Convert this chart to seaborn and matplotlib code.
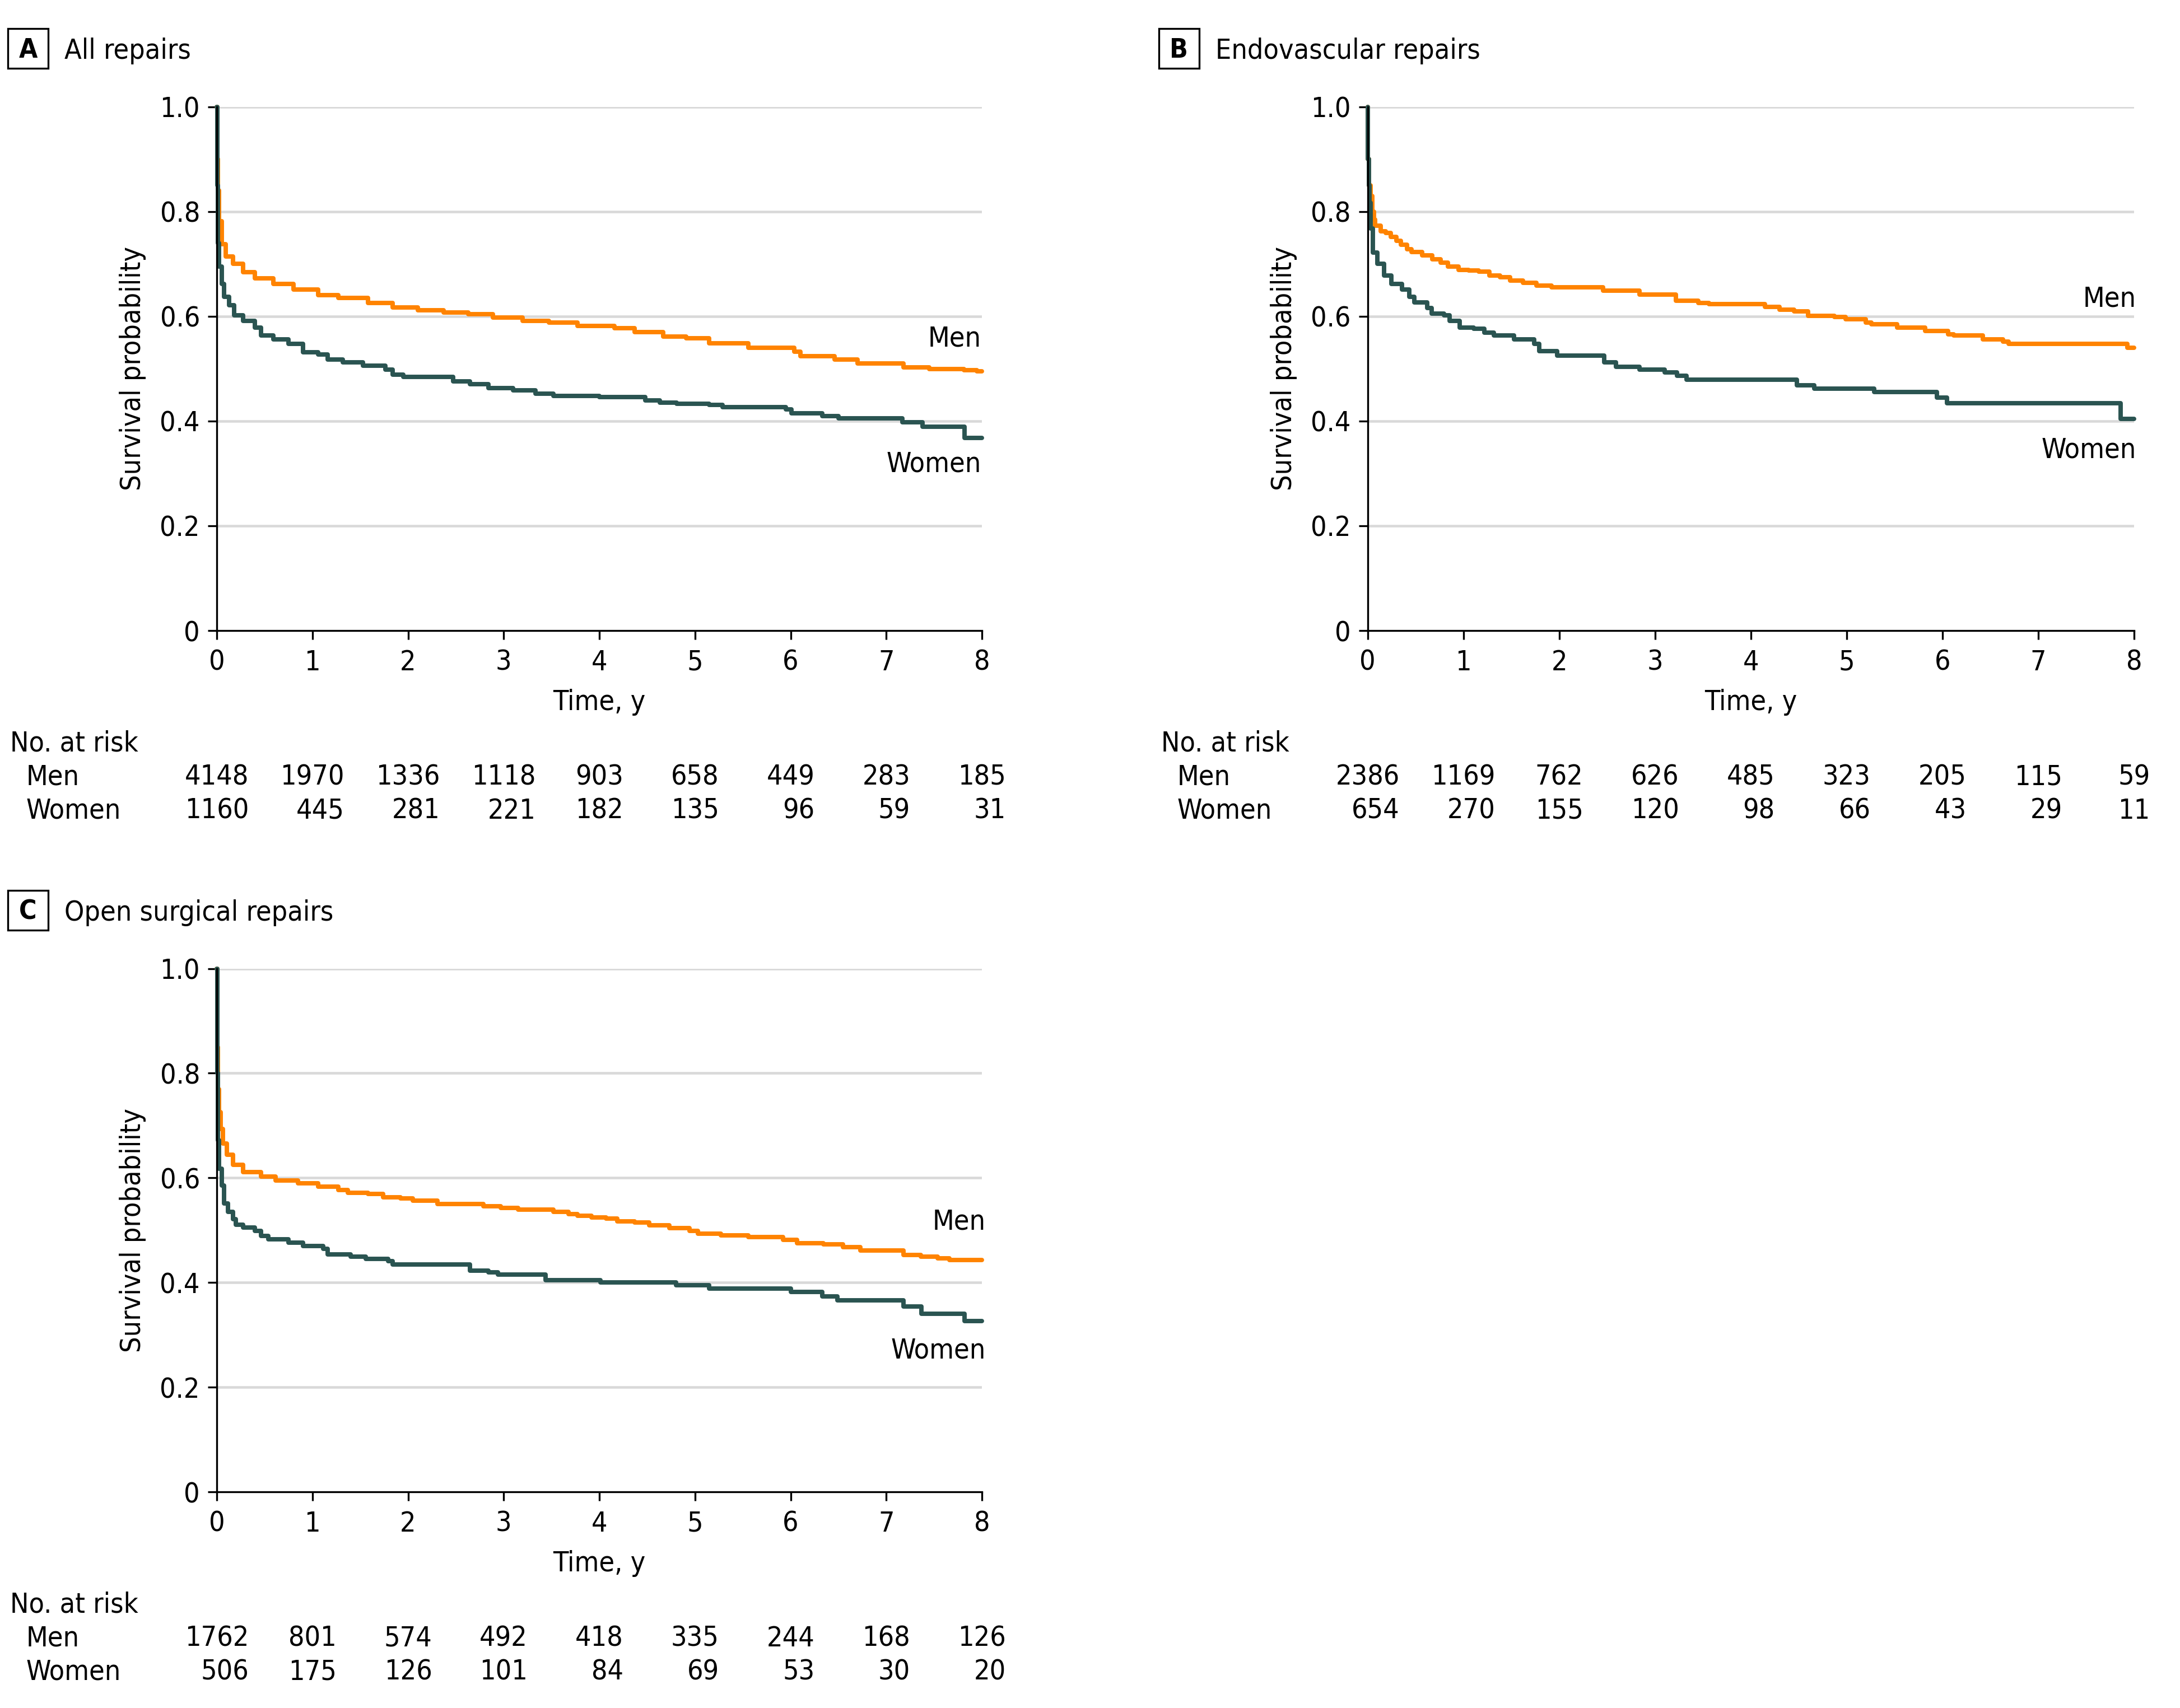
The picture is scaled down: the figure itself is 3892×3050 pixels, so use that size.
import numpy as np
import pandas as pd
import matplotlib
matplotlib.use("Agg")
import matplotlib.pyplot as plt
import seaborn as sns
from matplotlib import font_manager as fm
from matplotlib.patches import Rectangle

# ---------------- data ----------------
panel_letters = ["A", "B", "C"]
panel_titles = ["All repairs", "Endovascular repairs", "Open surgical repairs"]
groups = ["Men", "Women"]

# Panel A - all repairs
a_men_t = [0, 0.005, 0.012, 0.026, 0.053, 0.092, 0.17, 0.275, 0.40, 0.59, 0.80, 1.06, 1.27, 1.58,
           1.84, 2.10, 2.37, 2.63, 2.89, 3.20, 3.47, 3.77, 4.16, 4.37, 4.67, 4.91, 5.15, 5.56,
           6.04, 6.10, 6.46, 6.70, 7.18, 7.45, 7.81, 7.95, 8.0]
a_men_s = [1.0, 0.90, 0.84, 0.782, 0.738, 0.714, 0.700, 0.684, 0.673, 0.662, 0.651, 0.641, 0.635, 0.625,
           0.617, 0.612, 0.607, 0.604, 0.598, 0.591, 0.588, 0.582, 0.577, 0.570, 0.561, 0.5585, 0.549, 0.540,
           0.533, 0.524, 0.518, 0.510, 0.503, 0.499, 0.497, 0.495, 0.495]
a_wom_t = [0, 0.004, 0.010, 0.026, 0.053, 0.078, 0.13, 0.18, 0.275, 0.40, 0.46, 0.59, 0.75, 0.90,
           1.06, 1.16, 1.32, 1.53, 1.76, 1.84, 1.95, 2.47, 2.65, 2.84, 3.10, 3.33, 3.52, 4.0,
           4.48, 4.63, 4.81, 5.15, 5.29, 5.95, 6.01, 6.33, 6.50, 7.17, 7.38, 7.82, 8.0]
a_wom_s = [1.0, 0.85, 0.74, 0.695, 0.662, 0.637, 0.621, 0.602, 0.591, 0.578, 0.564, 0.556, 0.547, 0.531,
           0.527, 0.518, 0.512, 0.506, 0.498, 0.489, 0.484, 0.476, 0.470, 0.463, 0.459, 0.452, 0.4475, 0.4455,
           0.4400, 0.4350, 0.4335, 0.4305, 0.4270, 0.4220, 0.4145, 0.4096, 0.4050, 0.3975, 0.3892, 0.3681, 0.3681]

# Panel B - endovascular repairs
b_men_t = [0, 0.005, 0.015, 0.03, 0.05, 0.065, 0.08, 0.135, 0.19, 0.24, 0.30, 0.35, 0.41, 0.46,
           0.57, 0.675, 0.76, 0.84, 0.95, 1.055, 1.16, 1.27, 1.38, 1.49, 1.62, 1.76,
           1.92, 2.46, 2.84, 3.22, 3.45, 3.56, 4.15, 4.30, 4.45, 4.60, 4.87, 4.99, 5.20, 5.26,
           5.525, 5.82, 6.06, 6.12, 6.42, 6.63, 6.69, 7.93, 8.0]
b_men_s = [1.0, 0.90, 0.85, 0.830, 0.80, 0.785, 0.773, 0.762, 0.759, 0.752, 0.744, 0.737, 0.728, 0.723,
           0.716, 0.709, 0.702, 0.695, 0.689, 0.688, 0.685, 0.678, 0.675, 0.668, 0.664, 0.659,
           0.656, 0.649, 0.642, 0.630, 0.626, 0.623, 0.618, 0.613, 0.610, 0.601, 0.599, 0.595, 0.588, 0.585,
           0.578, 0.572, 0.566, 0.563, 0.556, 0.552, 0.5475, 0.540, 0.540]
b_wom_t = [0, 0.005, 0.012, 0.02, 0.03, 0.055, 0.10, 0.17, 0.25, 0.36, 0.435, 0.49, 0.62, 0.67,
           0.80, 0.855, 0.96, 1.11, 1.22, 1.32, 1.53, 1.74, 1.79, 1.98, 2.47, 2.59, 2.84, 3.10,
           3.23, 3.33, 4.48, 4.66, 5.29, 5.94, 6.05, 7.86, 8.0]
b_wom_s = [1.0, 0.90, 0.85, 0.817, 0.768, 0.722, 0.700, 0.678, 0.662, 0.651, 0.637, 0.627, 0.616, 0.605,
           0.602, 0.591, 0.579, 0.576, 0.569, 0.564, 0.556, 0.548, 0.534, 0.525, 0.512, 0.504, 0.498, 0.493,
           0.487, 0.479, 0.468, 0.462, 0.455, 0.445, 0.434, 0.404, 0.404]

# Panel C - open surgical repairs
c_men_t = [0, 0.004, 0.01, 0.026, 0.04, 0.065, 0.105, 0.17, 0.275, 0.46, 0.615, 0.85, 1.06, 1.27,
           1.37, 1.58, 1.74, 1.92, 2.05, 2.31, 2.785, 2.97, 3.15, 3.52, 3.68, 3.77, 3.92, 4.07,
           4.19, 4.37, 4.52, 4.73, 4.94, 5.03, 5.27, 5.56, 5.92, 6.07, 6.34, 6.55, 6.73, 7.18,
           7.36, 7.54, 7.66, 8.0]
c_men_s = [1.0, 0.85, 0.770, 0.726, 0.694, 0.666, 0.644, 0.625, 0.611, 0.603, 0.595, 0.590, 0.583, 0.577,
           0.572, 0.569, 0.563, 0.561, 0.557, 0.550, 0.546, 0.543, 0.539, 0.5354, 0.531, 0.528, 0.524, 0.522,
           0.517, 0.515, 0.5095, 0.504, 0.499, 0.4936, 0.490, 0.4865, 0.482, 0.475, 0.473, 0.468, 0.461, 0.453,
           0.449, 0.446, 0.443, 0.443]
c_wom_t = [0, 0.003, 0.01, 0.026, 0.053, 0.078, 0.12, 0.17, 0.20, 0.275, 0.40, 0.46, 0.54, 0.75,
           0.90, 1.11, 1.16, 1.40, 1.56, 1.79, 1.84, 2.65, 2.84, 2.94, 3.44, 4.01, 4.80, 5.15,
           6.00, 6.33, 6.49, 7.18, 7.37, 7.82, 8.0]
c_wom_s = [1.0, 0.80, 0.672, 0.617, 0.585, 0.551, 0.535, 0.521, 0.511, 0.505, 0.499, 0.489, 0.483, 0.476,
           0.470, 0.464, 0.454, 0.449, 0.445, 0.441, 0.434, 0.423, 0.419, 0.415, 0.405, 0.400, 0.395, 0.389,
           0.382, 0.374, 0.366, 0.354, 0.340, 0.326, 0.326]

# Number at risk
risk_times = [0, 1, 2, 3, 4, 5, 6, 7, 8]
a_risk_men = [4148, 1970, 1336, 1118, 903, 658, 449, 283, 185]
a_risk_wom = [1160, 445, 281, 221, 182, 135, 96, 59, 31]
b_risk_men = [2386, 1169, 762, 626, 485, 323, 205, 115, 59]
b_risk_wom = [654, 270, 155, 120, 98, 66, 43, 29, 11]
c_risk_men = [1762, 801, 574, 492, 418, 335, 244, 168, 126]
c_risk_wom = [506, 175, 126, 101, 84, 69, 53, 30, 20]

y_ticks = [0, 0.2, 0.4, 0.6, 0.8, 1.0]
y_ticklabels = ["0", "0.2", "0.4", "0.6", "0.8", "1.0"]
x_ticks = [0, 1, 2, 3, 4, 5, 6, 7, 8]

# curve-end label positions (x in years, baseline y in survival units)
label_pos = {
    "A": {"Men": (7.99, 0.5425), "Women": (7.99, 0.303)},
    "B": {"Men": (8.02, 0.6187), "Women": (8.02, 0.3296)},
    "C": {"Men": (8.04, 0.5015), "Women": (8.04, 0.2548)},
}

# ---------------- style ----------------
ORANGE = "#FF8300"
DARK = "#2A5451"
GRID = "#D9D9D9"

sns.set_theme(style="white")

ttf = fm.fontManager.ttflist
fam, stretch = "Liberation Sans", "normal"
if any(f.name == "DejaVu Sans" and f.stretch == "condensed" for f in ttf):
    fam, stretch = "DejaVu Sans", "condensed"
elif any(f.name == "Liberation Sans Narrow" for f in ttf):
    fam, stretch = "Liberation Sans Narrow", "condensed"
plt.rcParams["font.family"] = [fam, "DejaVu Sans"]
plt.rcParams["font.stretch"] = stretch
FS = 12

W, H = 3892, 3050
DPI = 300
fig = plt.figure(figsize=(W / DPI, H / DPI), dpi=DPI, facecolor="white")


def fx(px):
    return px / W


def fy(py):
    return 1 - py / H


panels = [
    ("A", (387, 190.8, 1753, 1126), (a_men_t, a_men_s, a_wom_t, a_wom_s), (a_risk_men, a_risk_wom)),
    ("B", (2441.6, 190.8, 3810, 1126), (b_men_t, b_men_s, b_wom_t, b_wom_s), (b_risk_men, b_risk_wom)),
    ("C", (387, 1729.6, 1753, 2664), (c_men_t, c_men_s, c_wom_t, c_wom_s), (c_risk_men, c_risk_wom)),
]

pending = []
for (letter, (L, T, R, B), (mt, ms, wt, ws), (rm, rw)), title in zip(panels, panel_titles):
    ax = fig.add_axes([fx(L), fy(B), (R - L) / W, (B - T) / H])
    df = pd.concat([
        pd.DataFrame({"t": mt, "S": ms, "sex": "Men"}),
        pd.DataFrame({"t": wt, "S": ws, "sex": "Women"}),
    ], ignore_index=True)
    sns.lineplot(data=df, x="t", y="S", hue="sex", hue_order=groups,
                 palette={"Men": ORANGE, "Women": DARK}, estimator=None, sort=False,
                 drawstyle="steps-post", lw=1.9, legend=False, ax=ax, clip_on=False,
                 zorder=3)
    ax.set_xlim(0, 8)
    ax.set_ylim(0, 1.0)
    ax.set_xlabel("")
    ax.set_ylabel("")
    ax.set_yticks(y_ticks)
    ax.set_yticklabels(y_ticklabels)
    ax.set_xticks(x_ticks)
    ax.set_xticklabels([str(v) for v in x_ticks])
    for yv in y_ticks[1:]:
        ax.axhline(yv, color=GRID, lw=1.1, zorder=1)
    ax.grid(False)
    for s in ["top", "right"]:
        ax.spines[s].set_visible(False)
    for s in ["left", "bottom"]:
        ax.spines[s].set_color("black")
        ax.spines[s].set_linewidth(0.8)
        ax.spines[s].set_zorder(4)
    ax.tick_params(axis="both", which="major", length=3.9, width=0.8, color="black",
                   labelsize=FS, labelcolor="black", direction="out")
    ax.tick_params(axis="y", pad=3.3, left=True)
    ax.tick_params(axis="x", pad=4.0, bottom=True)
    ax.set_facecolor("none")

    # curve labels
    for g in groups:
        x0, y0 = label_pos[letter][g]
        ax.text(x0, y0, g, ha="right", va="baseline", fontsize=FS, color="black", clip_on=False)

    # panel letter box + title
    fig.patches.append(Rectangle((fx(L - 373), fy(T - 69.1)), 72 / W, 71 / H,
                                 transform=fig.transFigure, fill=True, facecolor="white",
                                 edgecolor="black", lw=0.8))
    fig.text(fx(L - 337), fy(T - 87.8), letter, ha="center", va="baseline",
             fontsize=11.5, fontweight="bold", color="black")
    fig.text(fx(L - 272), fy(T - 85.8), title, ha="left", va="baseline", fontsize=FS, color="black")

    # axis labels
    fig.text(fx(L - 150), fy((T + B) / 2), "Survival probability", rotation=90,
             ha="center", va="center", fontsize=FS, color="black")
    fig.text(fx((L + R) / 2), fy(B + 142.3), "Time, y", ha="center", va="baseline",
             fontsize=FS, color="black")

    # number at risk table
    fig.text(fx(L - 369), fy(B + 215.7), "No. at risk", ha="left", va="baseline", fontsize=FS, color="black")
    fig.text(fx(L - 340), fy(B + 276), "Men", ha="left", va="baseline", fontsize=FS, color="black")
    fig.text(fx(L - 340), fy(B + 336), "Women", ha="left", va="baseline", fontsize=FS, color="black")
    men_texts = []
    for tv, n in zip(risk_times, rm):
        xf = fx(L + tv * (R - L) / 8)
        men_texts.append(fig.text(xf, fy(B + 276), str(n), ha="center", va="baseline",
                                  fontsize=FS, color="black"))
    pending.append((men_texts, rw, B))

fig.canvas.draw()
renderer = fig.canvas.get_renderer()
for men_texts, rw, B in pending:
    for mtxt, n in zip(men_texts, rw):
        bb = mtxt.get_window_extent(renderer)
        xr = fig.transFigure.inverted().transform((bb.x1, 0))[0]
        fig.text(xr, fy(B + 336), str(n), ha="right", va="baseline", fontsize=FS, color="black")

fig.savefig("out.png", dpi=DPI, facecolor="white")
